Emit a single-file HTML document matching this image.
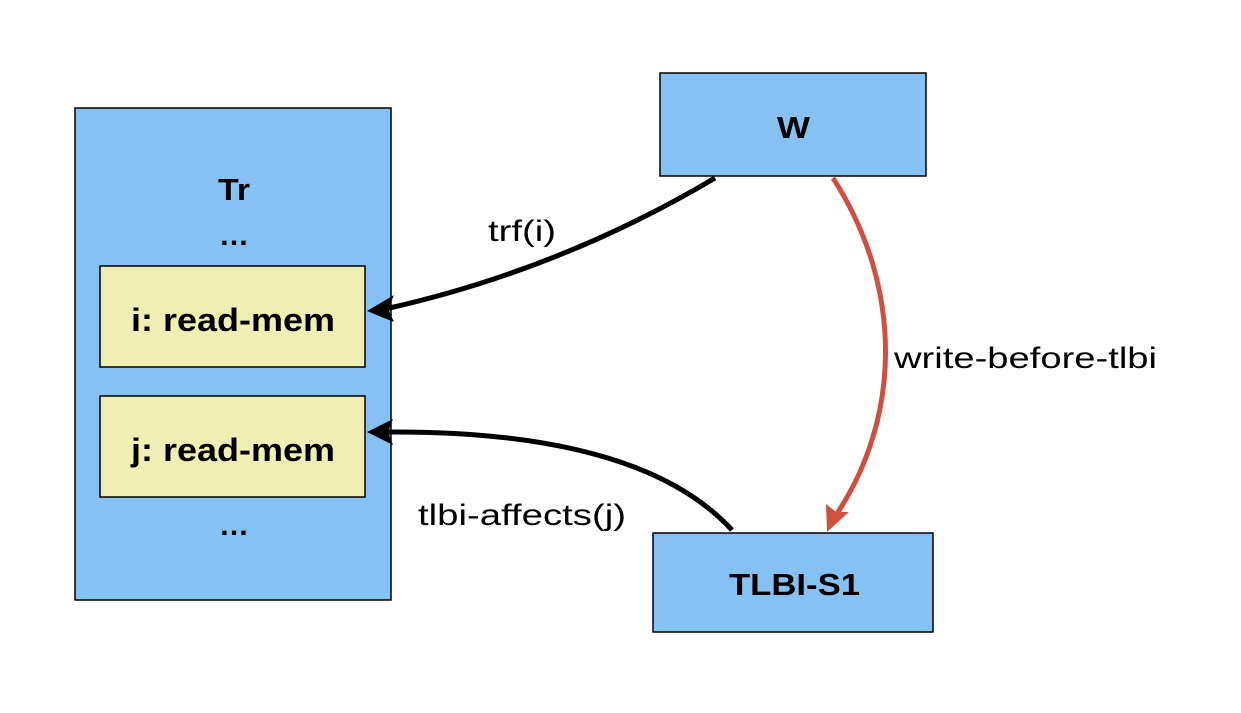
<!DOCTYPE html>
<html><head><style>body{margin:0;background:#fff}</style></head><body>
<svg width="1241" height="708" xmlns="http://www.w3.org/2000/svg" font-family="Liberation Sans, Arial, sans-serif">
<rect x="75" y="108" width="316" height="492" fill="#85c1f2" stroke="#000" stroke-width="1.5"/>
<text x="218" y="200" font-size="31" font-weight="bold" textLength="32" lengthAdjust="spacingAndGlyphs">Tr</text>
<text x="219" y="245" font-size="30" font-weight="bold" textLength="30" lengthAdjust="spacingAndGlyphs">…</text>
<rect x="100" y="266" width="265" height="101" fill="#efefb3" stroke="#000" stroke-width="1.5"/>
<text x="131" y="331" font-size="32" font-weight="bold" textLength="204" lengthAdjust="spacingAndGlyphs">i: read-mem</text>
<rect x="100" y="396" width="265" height="101" fill="#efefb3" stroke="#000" stroke-width="1.5"/>
<text x="131" y="461" font-size="32" font-weight="bold" textLength="204" lengthAdjust="spacingAndGlyphs">j: read-mem</text>
<text x="219" y="535" font-size="30" font-weight="bold" textLength="30" lengthAdjust="spacingAndGlyphs">…</text>
<rect x="660" y="73" width="266" height="103" fill="#85c1f2" stroke="#000" stroke-width="1.5"/>
<text x="777" y="138" font-size="31" font-weight="bold" textLength="33" lengthAdjust="spacingAndGlyphs">W</text>
<rect x="653" y="533" width="280" height="99" fill="#85c1f2" stroke="#000" stroke-width="1.5"/>
<text x="729" y="595" font-size="31" font-weight="bold" textLength="131" lengthAdjust="spacingAndGlyphs">TLBI-S1</text>
<path d="M715,178 Q560,270 385,309" fill="none" stroke="#000" stroke-width="5"/>
<polygon points="367,311 394,295 388,309 394,322" fill="#000"/>
<path d="M732,530 Q640,430 385,432" fill="none" stroke="#000" stroke-width="5"/>
<polygon points="367,432 393,419 388,432 393,445" fill="#000"/>
<path d="M833,178 C905,290 900,420 836,515" fill="none" stroke="#d05040" stroke-width="5"/>
<polygon points="827,532 826,504 836,512 849,512" fill="#d05040"/>
<text x="488" y="241" font-size="30" textLength="68" lengthAdjust="spacingAndGlyphs">trf(i)</text>
<text x="418" y="525" font-size="30" textLength="208" lengthAdjust="spacingAndGlyphs">tlbi-affects(j)</text>
<text x="894" y="368" font-size="30" textLength="263" lengthAdjust="spacingAndGlyphs">write-before-tlbi</text>
</svg>
</body></html>
